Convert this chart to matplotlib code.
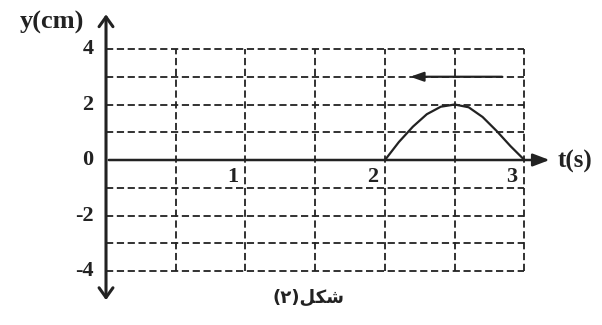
import matplotlib
matplotlib.use('Agg')
import matplotlib.pyplot as plt

# grid / ticks
grid_t = [0.5, 1.0, 1.5, 2.0, 2.5, 3.0]
grid_y = [-4, -3, -2, -1, 1, 2, 3, 4]
x_ticks = [1, 2, 3]
y_ticks = [4, 2, 0, -2, -4]

# wave pulse
t_vals = [2.0, 2.1, 2.2, 2.3, 2.4, 2.5, 2.6, 2.7, 2.8, 2.9, 3.0]
y_vals = [0.0, 0.65, 1.2, 1.65, 1.92, 2.0, 1.9, 1.55, 1.05, 0.5, 0.0]

# direction of propagation arrow (t from, t to, y)
move_arrow = (2.86, 2.16, 3.0)

fig = plt.figure(figsize=(6.02, 3.25), dpi=100)
ax = fig.add_axes([0, 0, 1, 1])
ax.set_xlim(-0.760, 3.556)
ax.set_ylim(-5.946, 5.766)
ax.axis('off')

dash = dict(color='#222222', linestyle=(0, (4, 2)), linewidth=1.3)
for gt in grid_t:
    ax.vlines(gt, -4, 4, **dash)
for gy in grid_y:
    ax.hlines(gy, 0, 3, **dash)

# axes
ax.annotate('', xy=(0, 5.35), xytext=(0, -5.15),
            arrowprops=dict(arrowstyle='<->,head_length=0.7,head_width=0.5', lw=2.2, color='#222222'))
ax.annotate('', xy=(3.20, 0), xytext=(0, 0),
            arrowprops=dict(arrowstyle='-|>,head_length=1.0,head_width=0.38', lw=1.8, color='#222222'))

ax.plot(t_vals, y_vals, color='#222222', lw=1.6)

ax.annotate('', xy=(move_arrow[1], move_arrow[2]), xytext=(move_arrow[0], move_arrow[2]),
            arrowprops=dict(arrowstyle='-|>,head_length=0.8,head_width=0.28', lw=1.6, color='#222222'))

serif = dict(family='Liberation Serif', fontweight='bold', color='#222222')
for yt in y_ticks:
    ax.text(-0.09, yt, str(yt), ha='right', va='center', fontsize=16, **serif)
for xt in x_ticks:
    ax.text(xt - 0.09, -0.6, str(xt), ha='center', va='center', fontsize=16, **serif)

ax.text(-0.39, 4.97, 'y(cm)', ha='center', va='center', fontsize=19, **serif)
ax.text(3.36, -0.05, 't(s)', ha='center', va='center', fontsize=18, **serif)

# caption "شكل (٢)" pre-shaped, visual order
ax.text(1.45, -4.97, '(\u0662)\uFEDE\uFEDC\uFEB7', ha='center', va='center',
        family='DejaVu Sans', fontweight='bold', fontsize=13, color='#222222')

fig.savefig('out.png', dpi=100, facecolor='white')
